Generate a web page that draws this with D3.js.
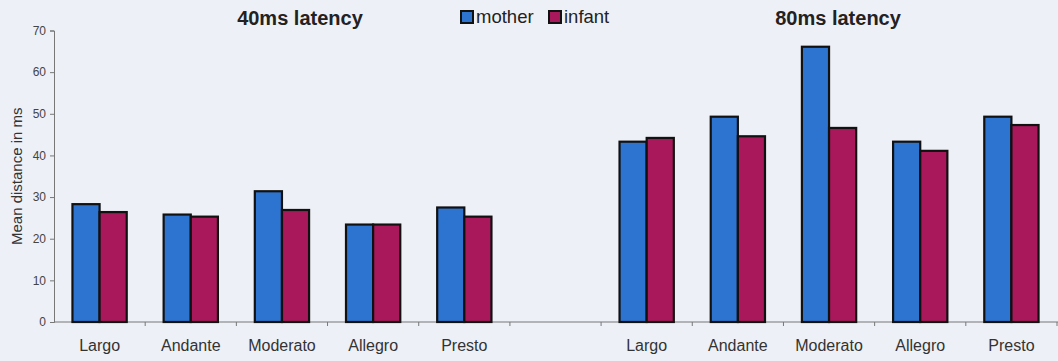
<!DOCTYPE html>
<html>
<head>
<meta charset="utf-8">
<script src="https://cdn.jsdelivr.net/npm/d3@7"></script>
<style>
  html, body { margin: 0; padding: 0; background: #eef0f7; }
  svg { display: block; }
</style>
</head>
<body>
<svg id="chart" width="1058" height="361"></svg>
<script>
// Tempo categories, shown once per latency condition with a blank slot between them
const tempos = ["Largo", "Andante", "Moderato", "Allegro", "Presto"];
const series = ["mother", "infant"];

// Mean distance (ms) at 40 ms latency
const mother40 = [28.3, 25.8, 31.4, 23.4, 27.5];
const infant40 = [26.4, 25.3, 26.9, 23.4, 25.3];

// Mean distance (ms) at 80 ms latency
const mother80 = [43.3, 49.3, 66.1, 43.3, 49.3];
const infant80 = [44.2, 44.6, 46.6, 41.1, 47.3];

const yTicks = [0, 10, 20, 30, 40, 50, 60, 70];
const titles = ["40ms latency", "80ms latency"];

const colors = { mother: "#2c74d0", infant: "#a8185a" };
const font = "Liberation Sans, Arial, sans-serif";

const svg = d3.select("#chart");
const width = 1058, height = 361;
const margin = { top: 30, right: 1, bottom: 39, left: 54 };

// Slot keys: five 40 ms slots, one empty gap, five 80 ms slots
const slots = [
  ...tempos.map(t => "40-" + t),
  "gap",
  ...tempos.map(t => "80-" + t)
];

const rows = [
  ...tempos.map((t, i) => ({ key: "40-" + t, label: t, mother: mother40[i], infant: infant40[i] })),
  ...tempos.map((t, i) => ({ key: "80-" + t, label: t, mother: mother80[i], infant: infant80[i] }))
];

const x = d3.scaleBand()
  .domain(slots)
  .range([margin.left, width - margin.right])
  .paddingInner(0)
  .paddingOuter(0);

const inner = d3.scaleBand()
  .domain(series)
  .range([0, x.bandwidth()])
  .paddingOuter(0.68)
  .paddingInner(0);

const y = d3.scaleLinear()
  .domain([0, 70])
  .range([height - margin.bottom, margin.top + 0.5]);

// Y axis
const yAxis = svg.append("g")
  .attr("transform", `translate(${margin.left},0)`)
  .call(d3.axisLeft(y).tickValues(yTicks).tickSize(4).tickPadding(4));
yAxis.select(".domain").attr("stroke", "#777").attr("stroke-width", 1);
yAxis.selectAll(".tick line").attr("stroke", "#777");
yAxis.selectAll("text")
  .attr("font-family", font)
  .attr("font-size", 12)
  .attr("fill", "#444");

// X axis: baseline with tick marks between slots
const y0 = y(0);
svg.append("line")
  .attr("x1", margin.left).attr("x2", width)
  .attr("y1", y0).attr("y2", y0)
  .attr("stroke", "#777").attr("stroke-width", 1);

const boundaries = slots.map(s => x(s)).concat([x(slots[slots.length - 1]) + x.bandwidth()]);
svg.append("g").selectAll("line")
  .data(boundaries.slice(1))
  .join("line")
  .attr("x1", d => d).attr("x2", d => d)
  .attr("y1", y0).attr("y2", y0 + 4)
  .attr("stroke", "#777");

// Category labels
svg.append("g").selectAll("text")
  .data(rows)
  .join("text")
  .attr("x", d => x(d.key) + x.bandwidth() / 2)
  .attr("y", y0 + 29)
  .attr("text-anchor", "middle")
  .attr("font-family", font)
  .attr("font-size", 16)
  .attr("fill", "#333")
  .text(d => d.label);

// Bars
const groups = svg.append("g").selectAll("g")
  .data(rows)
  .join("g")
  .attr("transform", d => `translate(${x(d.key)},0)`);

groups.selectAll("rect")
  .data(d => series.map(s => ({ s, v: d[s] })))
  .join("rect")
  .attr("x", d => inner(d.s))
  .attr("width", inner.bandwidth())
  .attr("y", d => y(d.v))
  .attr("height", d => y0 - y(d.v))
  .attr("fill", d => colors[d.s])
  .attr("stroke", "#111")
  .attr("stroke-width", 2.2);

// Panel titles, set slightly right of each panel's centre
const titleX = [
  (x("40-Largo") + x("40-Presto") + x.bandwidth()) / 2 + 18,
  (x("80-Largo") + x("80-Presto") + x.bandwidth()) / 2 + 9
];
svg.append("g").selectAll("text")
  .data(titles)
  .join("text")
  .attr("x", (d, i) => titleX[i])
  .attr("y", 25)
  .attr("text-anchor", "middle")
  .attr("font-family", font)
  .attr("font-weight", "bold")
  .attr("font-size", 20)
  .attr("fill", "#222")
  .text(d => d);

// Y axis title
svg.append("text")
  .attr("transform", `translate(22,${(y(0) + y(70)) / 2}) rotate(-90)`)
  .attr("text-anchor", "middle")
  .attr("font-family", font)
  .attr("font-size", 15)
  .attr("fill", "#333")
  .text("Mean distance in ms");

// Legend
const legendX = [460, 548];
const legend = svg.append("g").selectAll("g")
  .data(series)
  .join("g")
  .attr("transform", (d, i) => `translate(${legendX[i]},10)`);
legend.append("rect")
  .attr("x", 1).attr("y", 1)
  .attr("width", 12).attr("height", 12)
  .attr("fill", d => colors[d])
  .attr("stroke", "#111")
  .attr("stroke-width", 2);
legend.append("text")
  .attr("x", 16)
  .attr("y", 13)
  .attr("font-family", font)
  .attr("font-size", 18.5)
  .attr("fill", "#222")
  .text(d => d);
</script>
</body>
</html>
